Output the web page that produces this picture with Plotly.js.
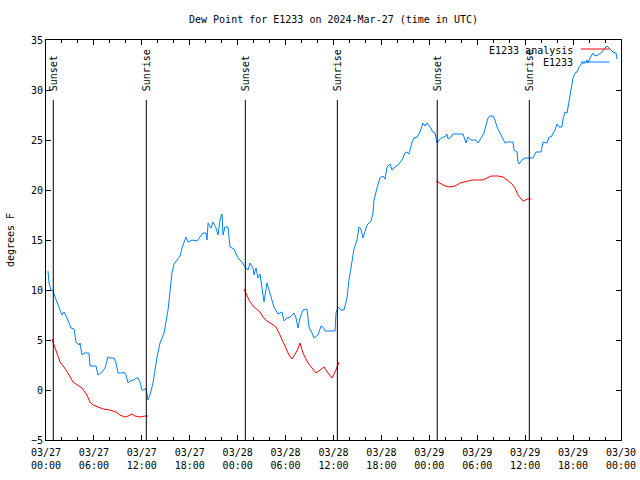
<!DOCTYPE html>
<html>
<head>
<meta charset="utf-8">
<script src="https://cdn.plot.ly/plotly-3.0.1.min.js"></script>
<style>html,body{margin:0;padding:0;background:#fff}#chart{width:640px;height:480px}</style>
</head>
<body>
<div id="chart"></div>
<script>
// Hours since 2024-03-27 00:00 UTC
const obsHours = [0.25,0.38,0.63,0.88,1.13,1.63,2.00,2.25,2.63,3.13,3.51,3.76,4.13,4.26,4.51,4.76,5.38,5.51,6.26,6.51,7.01,7.39,7.76,8.01,8.51,8.77,9.02,9.52,9.77,10.02,10.27,10.52,11.02,11.27,11.52,11.77,12.02,12.27,12.52,12.77,13.02,13.40,13.90,14.28,14.78,15.28,15.65,15.78,16.03,16.40,16.78,17.03,17.28,17.53,17.78,18.28,18.91,19.28,19.66,20.04,20.16,20.29,20.66,20.91,21.29,21.54,21.79,22.04,22.16,22.41,22.79,23.04,23.54,24.04,24.54,24.92,25.29,25.54,25.92,26.05,26.30,26.55,26.80,27.05,27.30,27.67,27.92,28.30,28.55,29.05,29.55,29.80,30.18,30.55,31.05,31.31,31.56,31.81,32.18,32.68,32.93,33.31,33.56,34.06,34.44,34.69,34.94,36.19,36.31,36.56,36.94,37.32,37.69,37.94,38.32,38.57,38.94,39.19,39.44,39.69,40.20,40.70,40.95,41.07,41.45,41.82,42.20,42.45,42.70,43.08,43.33,43.70,44.08,44.58,44.95,45.20,45.45,45.83,46.08,46.46,46.83,47.21,47.46,47.71,48.08,48.46,48.71,48.96,49.34,49.71,49.96,50.21,50.34,50.71,50.96,52.22,52.59,52.84,53.22,53.84,54.10,54.60,54.85,55.10,55.35,55.60,55.97,56.22,56.48,56.85,57.23,57.48,57.73,58.48,58.60,58.98,59.10,59.23,59.60,59.98,60.98,61.36,61.99,62.23,62.73,62.99,63.24,63.49,63.74,63.99,64.24,64.61,64.74,64.99,65.24,65.37,65.62,65.87,65.99,66.24,66.49,66.74,67.12,67.49,67.74,67.87,68.12,68.50,68.75,69.12,69.62,70.00,70.25,70.62,71.00,71.38,71.50];
const obsDew = [11.9,10.7,10.0,9.9,9.3,8.2,7.5,7.8,7.2,6.2,6.1,4.8,4.5,4.7,3.5,3.7,3.7,2.4,2.4,1.5,1.8,2.2,3.3,3.2,3.2,2.7,1.7,1.7,1.8,1.5,0.7,0.9,1.0,1.2,1.2,0.8,0.0,0.0,0.2,-1.0,-0.5,0.7,3.3,4.7,5.7,8.0,10.7,11.7,12.6,13.0,13.4,14.2,14.7,15.3,14.8,15.0,14.9,15.3,15.7,15.7,15.0,16.7,16.2,16.8,16.2,15.5,17.0,17.6,15.5,16.3,16.3,14.3,14.1,13.2,12.8,12.3,12.0,12.7,12.2,11.5,12.2,11.2,11.6,10.2,8.8,10.7,10.0,9.2,8.3,7.6,7.8,6.9,7.2,7.3,7.7,7.2,6.2,7.2,8.0,8.1,6.3,5.7,5.2,5.5,6.4,6.3,5.9,5.9,7.7,8.3,8.0,8.0,9.2,11.0,12.7,14.1,15.0,16.3,16.1,15.2,16.5,16.9,17.7,19.0,20.2,21.2,21.4,21.1,22.3,22.6,22.0,22.3,22.5,23.0,23.7,23.8,23.6,24.8,25.2,25.3,25.8,26.7,26.4,26.7,26.3,25.8,25.7,24.7,25.1,25.3,25.3,25.6,25.1,25.3,25.6,25.6,24.7,25.3,25.0,25.0,24.7,25.3,25.7,26.5,27.2,27.4,27.4,27.0,26.3,25.7,25.0,24.7,24.8,24.8,24.0,23.8,22.8,22.6,23.0,23.2,23.2,23.8,23.8,24.8,24.7,25.3,25.3,25.7,26.0,26.6,26.3,26.3,27.1,27.8,27.7,28.3,29.5,30.7,31.2,31.7,31.8,32.3,32.7,32.7,33.0,32.7,33.2,33.7,33.4,33.5,33.8,34.2,34.4,34.1,33.8,33.7,33.1];

const anaHours = [0.75,1.00,1.38,1.75,2.25,2.75,3.38,3.88,4.51,5.13,5.51,5.89,6.51,7.14,8.01,8.77,9.27,9.89,10.27,10.77,11.14,11.77,12.40,12.77,
  null,
  24.79,25.17,25.42,25.92,26.42,26.80,27.17,27.67,28.30,28.80,29.30,29.93,30.43,30.80,31.43,31.81,32.18,32.81,33.43,33.81,34.31,34.81,35.31,35.81,36.31,36.69,
  null,
  48.84,49.34,49.96,50.59,51.22,51.84,52.72,53.35,54.72,55.22,55.72,56.60,57.23,57.73,58.35,58.73,59.10,59.60,59.85,60.23,60.73];
const anaDew = [5.1,4.5,3.7,2.8,2.3,1.7,0.8,0.5,0.2,-0.5,-1.2,-1.5,-1.7,-1.9,-2.0,-2.2,-2.5,-2.7,-2.6,-2.4,-2.6,-2.7,-2.6,-2.6,
  null,
  10.1,9.5,9.0,8.4,8.1,7.8,7.3,6.9,6.6,6.3,5.5,4.3,3.5,3.1,3.9,4.7,3.7,2.7,2.1,1.7,2.0,2.3,1.7,1.2,2.0,2.8,
  null,
  20.9,20.7,20.4,20.3,20.4,20.7,20.9,21.0,21.0,21.2,21.4,21.4,21.3,21.0,20.6,20.2,19.5,19.0,18.9,19.1,19.1];

const sunEventHours = [0.91,12.56,24.96,36.48,48.99,60.52];
const sunEventLabels = ['Sunset','Sunrise','Sunset','Sunrise','Sunset','Sunrise'];

const seriesNames = ['E1233 analysis','E1233'];
const titleText = 'Dew Point for E1233 on 2024-Mar-27 (time in UTC)';
const yLabel = 'degrees F';

const BASE = Date.UTC(2024,2,27,0,0,0);
function toDate(h){
  if(h===null) return null;
  return new Date(BASE + Math.round(h*3600000)).toISOString().slice(0,19).replace('T',' ');
}

const FONT = 'DejaVu Sans Mono';
const RED = '#ff0000', BLUE = '#0080ff';

const traces = [
  {x: anaHours.map(toDate), y: anaDew, type:'scatter', mode:'lines', name: seriesNames[0],
   line:{color:RED,width:1}, connectgaps:false, showlegend:false, hoverinfo:'skip'},
  {x: obsHours.map(toDate), y: obsDew, type:'scatter', mode:'lines', name: seriesNames[1],
   line:{color:BLUE,width:1}, showlegend:false, hoverinfo:'skip'}
];

const shapes = sunEventHours.map(h => ({
  type:'line', xref:'x', yref:'paper', x0:toDate(h), x1:toDate(h), y0:0, y1:0.85,
  line:{color:'#000',width:1}, layer:'above'
}));
// legend samples
shapes.push({type:'line', xref:'paper', yref:'paper', x0:0.930, x1:0.980, y0:0.9775, y1:0.9775, line:{color:RED,width:1}});
shapes.push({type:'line', xref:'paper', yref:'paper', x0:0.930, x1:0.980, y0:0.945, y1:0.945, line:{color:BLUE,width:1}});

const annotations = sunEventHours.map((h,i) => ({
  x: toDate(h), xref:'x', y:0.8675, yref:'paper', text: sunEventLabels[i],
  textangle:-90, showarrow:false, xanchor:'center', yanchor:'bottom', xshift:1,
  font:{family:FONT,size:10,color:'#000'}
}));
annotations.push({x:0.92, xref:'paper', y:0.973, yref:'paper', text:seriesNames[0], showarrow:false,
  xanchor:'right', yanchor:'middle', font:{family:FONT,size:10,color:'#000'}});
annotations.push({x:0.92, xref:'paper', y:0.945, yref:'paper', text:seriesNames[1], showarrow:false,
  xanchor:'right', yanchor:'middle', font:{family:FONT,size:10,color:'#000'}});

const layout = {
  width:640, height:480,
  margin:{l:46, r:19, t:40, b:40},
  paper_bgcolor:'#fff', plot_bgcolor:'#fff',
  font:{family:FONT, size:10, color:'#000'},
  title:{text:titleText, x:0.5, xref:'paper', xanchor:'center', y:1-19/480, yref:'container', yanchor:'middle',
         font:{family:FONT,size:10,color:'#000'}},
  showlegend:false,
  xaxis:{type:'date', range:[toDate(0), toDate(72)], tick0:toDate(0), dtick:6*3600000,
    tickformat:'%m/%d<br>%H:%M', ticks:'inside', ticklen:5, tickcolor:'#000', tickwidth:1,
    showline:true, linecolor:'#000', linewidth:1, mirror:'allticks', showgrid:false, zeroline:false,
    ticklabelstandoff:3,
    minor:{dtick:2*3600000, ticks:'inside', ticklen:3, tickcolor:'#000', showgrid:false},
    tickfont:{family:FONT,size:10,color:'#000'}, fixedrange:true},
  yaxis:{range:[-5,35], dtick:5, tick0:0, ticks:'inside', ticklen:5, tickcolor:'#000',
    showline:true, linecolor:'#000', linewidth:1, mirror:'allticks', showgrid:false, zeroline:false,
    tickfont:{family:FONT,size:10,color:'#000'},
    title:{text:yLabel, standoff:14, font:{family:FONT,size:10,color:'#000'}}, fixedrange:true},
  shapes: shapes,
  annotations: annotations
};

Plotly.newPlot('chart', traces, layout, {staticPlot:true, displayModeBar:false});
</script>
</body>
</html>
